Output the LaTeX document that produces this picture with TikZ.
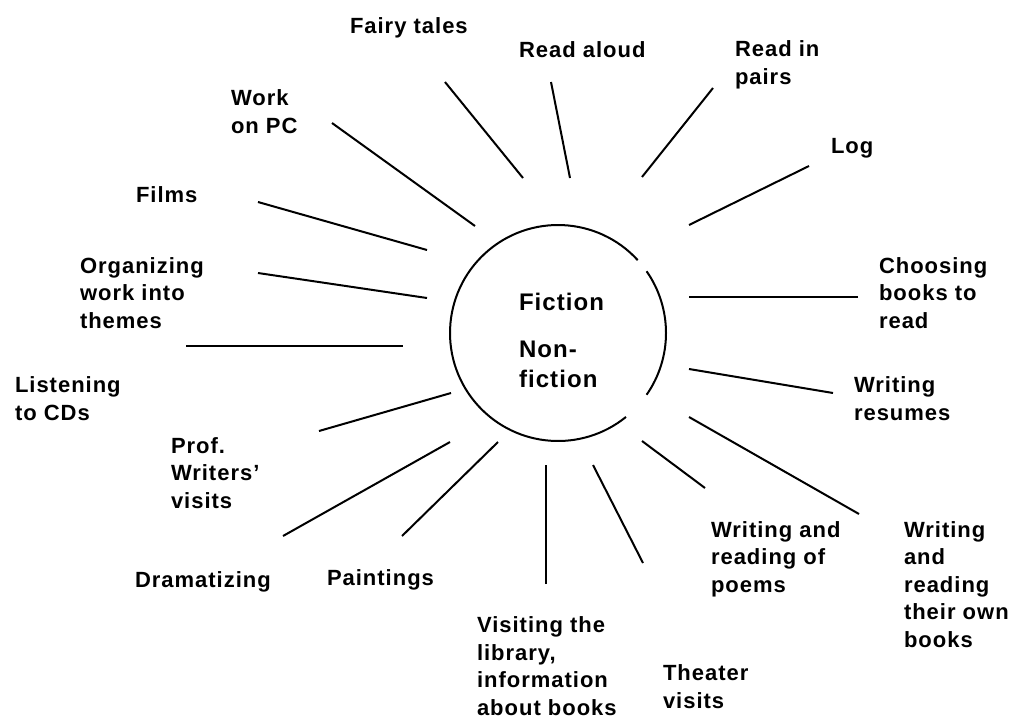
\documentclass[tikz,border=0pt]{standalone}
\usepackage{fontspec}
\setmainfont{Liberation Sans}[LetterSpace=4.5]
\usepackage{tikz}
\usetikzlibrary{positioning}

\begin{document}
\begin{tikzpicture}[x=1pt,y=-1pt,line width=2pt]
      \tikzstyle{tag}=[font=\fontsize{22}{27.5}\selectfont\bfseries,align=left,anchor=base west,inner sep=0pt]
      \tikzstyle{spoke}=[line cap=butt]
      \useasboundingbox[fill=white] (0,0) rectangle (1011,718);
      % centre ring, broken twice on the right
      \coordinate (hub) at (558,333);
      \draw (hub) ++(42.4:108pt) arc[start angle=42.4,end angle=309,radius=108pt];
      \draw (hub) ++(-34.9:108pt) arc[start angle=-34.9,end angle=34.9,radius=108pt];
      \node[tag,font=\fontsize{24}{30}\selectfont\bfseries] (topic) at (518,387) {Fiction\\[17pt]Non-\\fiction};
      % labels round the ring (placed at the baseline of their last line)
      \node[tag] (fairy) at (349,33) {Fairy tales};
      \node[tag] (aloud) at (518,57) {Read aloud};
      \node[tag] (pairs) at (734,84) {Read in\\pairs};
      \node[tag] (log) at (830,153) {Log};
      \node[tag] (choosing) at (878,328) {Choosing\\books to\\read};
      \node[tag] (resumes) at (853,420) {Writing\\resumes};
      \node[tag] (ownbooks) at (903,647) {Writing\\and\\reading\\their own\\books};
      \node[tag] (poems) at (710,592) {Writing and\\reading of\\poems};
      \node[tag] (theater) at (662,708) {Theater\\visits};
      \node[tag] (library) at (476,715) {Visiting the\\library,\\information\\about books};
      \node[tag] (paintings) at (326,585) {Paintings};
      \node[tag] (dramatizing) at (134,587) {Dramatizing};
      \node[tag] (prof) at (170,508) {Prof.\\Writers’\\visits};
      \node[tag] (listening) at (14,420) {Listening\\to CDs};
      \node[tag] (organizing) at (79,328) {Organizing\\work into\\themes};
      \node[tag] (films) at (135,202) {Films};
      \node[tag] (workpc) at (230,133) {Work\\on PC};
      % spokes: outer end / inner end
      \foreach \nm/\ax/\ay/\bx/\by in {fairy/445/82/523/178, aloud/551/82/570/178,
          pairs/713/88/642/177, log/809/166/689/225, choosing/858/297/689/297,
          resumes/833/393/689/369, ownbooks/859/514/689/417, poems/705/488/642/441,
          theater/643/563/593/465, library/546/584/546/465, paintings/402/536/498/442,
          dramatizing/283/536/450/442, prof/319/431/451/393, listening/186/346/403/346,
          organizing/258/273/427/298, films/258/202/427/250, workpc/332/123/475/226}{
        \coordinate (\nm-out) at (\ax,\ay);
        \coordinate (\nm-in) at (\bx,\by);
        \draw[spoke] (\nm-out) -- (\nm-in);
      }
    \end{tikzpicture}
\end{document}
